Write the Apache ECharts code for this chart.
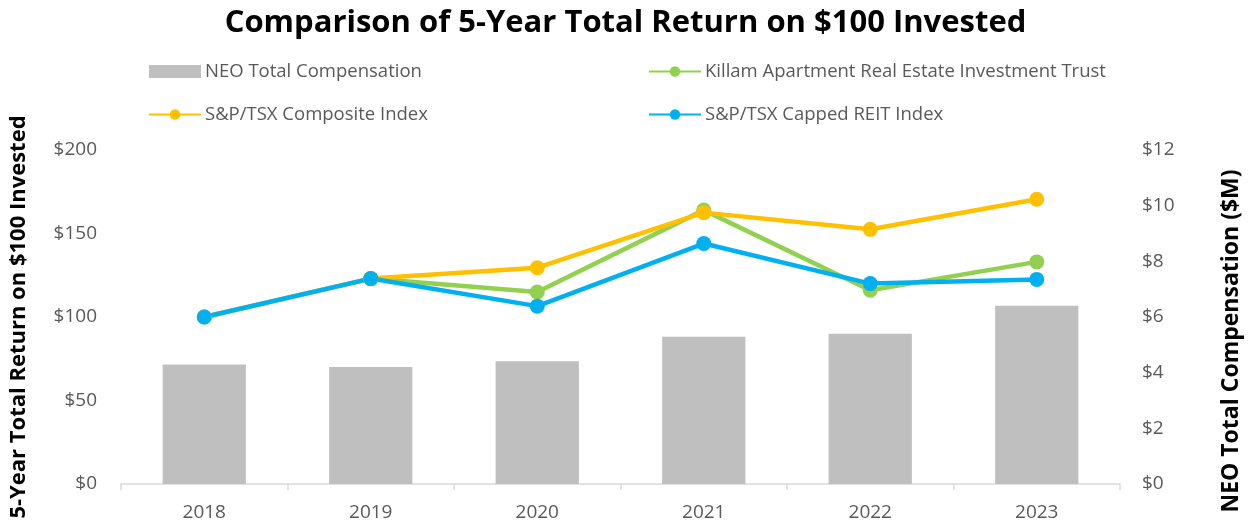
<!DOCTYPE html>
<html>
<head>
<meta charset="utf-8">
<script src="https://cdn.jsdelivr.net/npm/echarts@6/dist/echarts.min.js"></script>
<style>
  html, body { margin: 0; padding: 0; background: #fff; }
  #chart { width: 1251px; height: 527px; }
</style>
</head>
<body>
<div id="chart"></div>
<script>
  var years = ['2018', '2019', '2020', '2021', '2022', '2023']
  var neoComp = [4.29, 4.2, 4.41, 5.29, 5.4, 6.4]
  var killam = [100, 123, 115, 164, 116, 133]
  var tsxComposite = [100, 123, 129.5, 162.5, 152.5, 170.5]
  var tsxReit = [100, 123, 106.5, 144, 120, 122.5]

  var font = '"Open Sans", Lato, sans-serif'
  var grey = '#595959'

  var chart = echarts.init(document.getElementById('chart'))
  chart.setOption({
    backgroundColor: '#fff',
    animation: false,
    textStyle: { fontFamily: font },
    title: {
      text: 'Comparison of 5-Year Total Return on $100 Invested',
      left: 'center',
      top: 3,
      textStyle: { fontFamily: font, fontWeight: 'bold', fontSize: 31, color: '#000' },
    },
    legend: [
      {
        left: 143,
        top: 57,
        orient: 'vertical',
        itemWidth: 52,
        itemHeight: 13,
        itemGap: 24,
        data: [
          { name: 'NEO Total Compensation', icon: 'rect' },
          'S&P/TSX Composite Index',
        ],
        textStyle: { fontSize: 18.5, color: grey, fontFamily: font, padding: [0, 0, 0, -1] },
      },
      {
        left: 643,
        top: 57,
        orient: 'vertical',
        itemWidth: 52,
        itemHeight: 13,
        itemGap: 24,
        data: ['Killam Apartment Real Estate Investment Trust', 'S&P/TSX Capped REIT Index'],
        textStyle: { fontSize: 18.5, color: grey, fontFamily: font, padding: [0, 0, 0, -1] },
      },
    ],
    grid: { left: 121, right: 123, top: 150, bottom: 43 },
    xAxis: {
      type: 'category',
      data: years,
      boundaryGap: true,
      axisLine: { lineStyle: { color: '#d9d9d9', width: 1.5 } },
      axisTick: { show: true, length: 6, lineStyle: { color: '#d9d9d9', width: 1.5 } },
      axisLabel: { fontSize: 19, color: grey, margin: 19, fontFamily: font },
    },
    yAxis: [
      {
        type: 'value',
        min: 0,
        max: 200,
        interval: 50,
        name: '5-Year Total Return on $100 Invested',
        nameLocation: 'middle',
        nameGap: 91,
        nameTextStyle: { fontSize: 22, fontWeight: 'bold', color: '#000', fontFamily: font },
        axisLine: { show: false },
        axisTick: { show: false },
        splitLine: { show: false },
        axisLabel: { fontSize: 19, color: grey, margin: 24, formatter: '${value}', fontFamily: font },
      },
      {
        type: 'value',
        min: 0,
        max: 12,
        interval: 2,
        name: 'NEO Total Compensation ($M)',
        nameLocation: 'middle',
        nameGap: 100,
        nameRotate: 90,
        nameTextStyle: {
          fontSize: 23,
          fontWeight: 'bold',
          color: '#000',
          fontFamily: font,
          padding: [0, 48, 0, 0],
        },
        axisLine: { show: false },
        axisTick: { show: false },
        splitLine: { show: false },
        axisLabel: { fontSize: 19, color: grey, margin: 22, formatter: '${value}', fontFamily: font },
      },
    ],
    series: [
      {
        name: 'NEO Total Compensation',
        type: 'bar',
        yAxisIndex: 1,
        barWidth: '50%',
        itemStyle: { color: '#bfbfbf' },
        data: neoComp,
      },
      {
        name: 'Killam Apartment Real Estate Investment Trust',
        type: 'line',
        symbol: 'circle',
        symbolSize: 15,
        lineStyle: { width: 4.5, color: '#92d050' },
        itemStyle: { color: '#92d050' },
        data: killam,
      },
      {
        name: 'S&P/TSX Composite Index',
        type: 'line',
        symbol: 'circle',
        symbolSize: 15,
        lineStyle: { width: 4.5, color: '#ffc000' },
        itemStyle: { color: '#ffc000' },
        data: tsxComposite,
      },
      {
        name: 'S&P/TSX Capped REIT Index',
        type: 'line',
        symbol: 'circle',
        symbolSize: 15,
        lineStyle: { width: 4.5, color: '#00b0f0' },
        itemStyle: { color: '#00b0f0' },
        data: tsxReit,
      },
    ],
  })
</script>
</body>
</html>
